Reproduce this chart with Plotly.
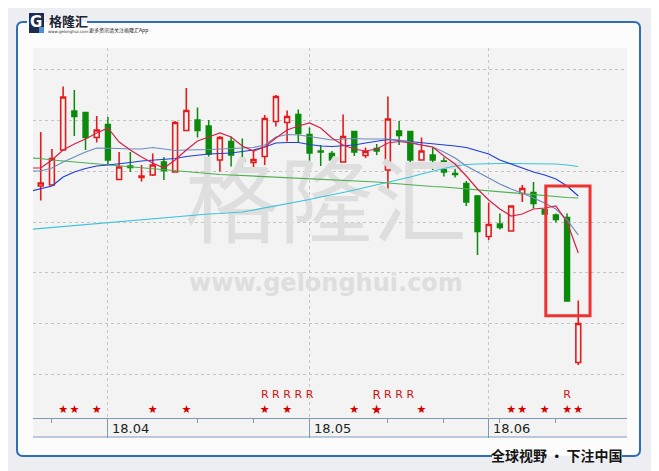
import plotly.graph_objects as go

# candle data (one bar per trading day, index 0..48)
opens = [23.4, 23.5, 27.0, 30.9, 30.75, 28.25, 29.55, 24.05, 25.4, 24.25,
         24.5, 25.8, 24.8, 28.95, 30.0, 29.4, 26.0, 27.85, 26.0, 25.75,
         26.35, 29.85, 29.75, 30.55, 28.55, 26.9, 26.65, 25.8, 28.85, 26.45,
         27.15, 25.0, 28.9, 28.85, 26.0, 26.5, 25.9, 24.65, 23.65, 22.4,
         18.35, 19.6, 18.9, 22.65, 22.75, 21.05, 20.5, 20.25, 5.75]
highs = [28.8, 27.1, 33.35, 33.0, 30.75, 30.4, 30.3, 26.8, 26.8, 25.5,
         26.65, 26.3, 29.9, 33.2, 31.25, 30.0, 28.4, 28.35, 28.15, 27.0,
         30.5, 32.5, 30.95, 31.05, 29.25, 27.5, 26.9, 30.55, 28.85, 27.25,
         27.6, 32.35, 29.9, 28.85, 28.25, 27.25, 26.25, 25.35, 23.9, 22.5,
         21.75, 20.65, 21.4, 23.5, 23.8, 21.05, 20.65, 20.65, 11.95]
lows = [21.95, 23.5, 27.0, 28.4, 27.0, 27.75, 25.6, 24.05, 24.8, 23.85,
        24.4, 24.0, 24.8, 28.95, 28.25, 26.3, 24.85, 25.35, 25.15, 24.7,
        25.5, 29.35, 27.85, 27.7, 25.55, 25.4, 25.65, 25.8, 26.4, 26.2,
        26.5, 22.5, 27.5, 25.5, 26.0, 25.0, 24.35, 24.25, 21.4, 16.5,
        18.0, 19.05, 18.9, 21.8, 21.15, 20.6, 19.75, 11.9, 5.5]
closes = [23.7, 26.15, 32.3, 30.35, 28.25, 29.0, 26.0, 25.3, 25.25, 24.4,
          25.5, 24.95, 29.75, 30.95, 28.95, 26.6, 28.25, 26.5, 25.9, 26.05,
          30.15, 32.35, 30.35, 28.65, 26.7, 26.8, 26.0, 28.35, 26.8, 26.85,
          26.9, 30.1, 28.45, 26.0, 26.9, 26.0, 24.8, 24.55, 21.8, 18.85,
          19.55, 19.25, 21.4, 23.15, 21.65, 20.6, 20.05, 11.9, 9.65]

# moving average lines (first value = day before the window)
ma5 = [25.2, 25.2, 26.0, 27.0, 27.6, 28.1, 28.7, 29.2, 27.8, 27.0, 26.3,
       25.7, 25.2, 26.0, 27.0, 27.9, 28.3, 28.7, 28.3, 27.4, 26.9,
       27.3, 28.2, 29.0, 29.4, 29.7, 29.2, 28.2, 27.5, 27.1, 26.9,
       27.1, 27.7, 27.85, 27.7, 27.5, 27.3, 26.4, 25.6, 24.4, 23.1,
       22.0, 21.1, 20.4, 20.6, 21.1, 21.2, 21.4, 19.8, 16.7]
ma10 = [24.9, 24.9, 25.2, 25.8, 26.3, 26.8, 27.2, 27.2, 27.15, 27.1, 27.1,
        27.25, 27.1, 26.95, 27.0, 27.0, 27.05, 27.1, 27.15, 27.2, 27.25,
        27.5, 28.3, 28.55, 28.5, 28.35, 28.15, 28.0, 28.1, 28.15, 28.1,
        28.1, 28.1, 28.0, 27.8, 27.5, 27.3, 26.8, 26.2, 25.4, 24.8,
        24.2, 23.6, 23.1, 22.7, 22.2, 21.7, 21.1, 20.0, 18.5]
ma20 = [22.85, 23.1, 23.4, 24.3, 24.8, 25.15, 25.4, 25.5, 25.6, 25.75, 25.9,
        26.0, 26.1, 26.15, 26.35, 26.5, 26.6, 26.65, 26.7, 26.85, 27.0,
        27.3, 27.7, 27.75, 27.75, 27.55, 27.4, 27.35, 27.4, 27.5, 27.7,
        27.9, 28.05, 27.95, 27.85, 27.7, 27.6, 27.5, 27.4, 27.25, 26.9,
        26.6, 26.0, 25.6, 25.2, 24.8, 24.5, 24.1, 23.4, 22.4]
ma60 = [26.2, 26.15, 26.0, 25.9, 25.8, 25.7, 25.6, 25.5, 25.45, 25.35, 25.25,
        25.15, 25.05, 24.9, 24.8, 24.7, 24.65, 24.55, 24.5, 24.45, 24.35,
        24.3, 24.25, 24.2, 24.15, 24.15, 24.1, 24.05, 24.0, 23.95, 23.9,
        23.8, 23.7, 23.6, 23.5, 23.4, 23.35, 23.3, 23.2, 23.15, 23.05,
        22.95, 22.85, 22.75, 22.65, 22.55, 22.45, 22.35, 22.25, 22.2]
ma250 = [19.05, 19.15, 19.25, 19.35, 19.45, 19.55, 19.65, 19.75, 19.85, 19.95, 20.05,
         20.15, 20.25, 20.35, 20.45, 20.5, 20.6, 20.65, 20.7, 20.8, 21.0,
         21.2, 21.4, 21.6, 21.8, 22.05, 22.3, 22.5, 22.75, 23.0, 23.25,
         23.5, 23.8, 24.05, 24.3, 24.6, 24.9, 25.15, 25.4, 25.55, 25.6,
         25.65, 25.65, 25.65, 25.65, 25.65, 25.65, 25.6, 25.5, 25.35]

star_days = [2, 3, 5, 10, 13, 20, 22, 28, 30, 34, 42, 43, 45, 47, 48]
r_days = [20, 21, 22, 23, 24, 30, 31, 32, 33, 47]
month_pos = [6, 24, 40]
month_labels = ["18.04", "18.05", "18.06"]
week_pos = [1, 14, 19, 31, 36, 41, 46]
grid_levels = [4.6, 9.7, 14.8, 19.8, 24.9, 30.0, 35.1]

days = list(range(len(closes)))
ma_days = list(range(-1, len(closes)))

# the page puts the figure 8px in from the top-left corner
OFF = 8
W, H = 659 - OFF, 471 - OFF
L, R, T, B = 33, 627, 48, 418   # plot area in window pixels


# window pixel -> paper helpers for the decoration
def px(x):
    return (x - L) / (R - L)


def py(y):
    return (B - y) / (B - T)


fig = go.Figure()

# watermark sits behind everything
fig.add_trace(go.Scatter(x=[25.47], y=[20.8], mode="text", text=["格隆汇"],
                         textfont=dict(family="Noto Sans CJK SC", size=94, color="#dedede"),
                         hoverinfo="skip"))
fig.add_trace(go.Scatter(x=[25.47], y=[13.5], mode="text", text=["<b>www.gelonghui.com</b>"],
                         textfont=dict(family="DejaVu Sans", size=24, color="#dedede"),
                         hoverinfo="skip"))

fig.add_trace(go.Candlestick(
    x=days, open=opens, high=highs, low=lows, close=closes,
    increasing=dict(line=dict(color="#e41b1b", width=1.6), fillcolor="#f3f3f3"),
    decreasing=dict(line=dict(color="#0b8a0b", width=1.5), fillcolor="#0b8a0b"),
    hoverinfo="skip"))

for vals, col in [(ma250, "#3cc3dc"), (ma60, "#4cb050"), (ma20, "#1d3fd6"),
                  (ma10, "#6d8cbc"), (ma5, "#d6204a")]:
    fig.add_trace(go.Scatter(x=ma_days, y=vals, mode="lines",
                             line=dict(color=col, width=1.2), hoverinfo="skip"))

star_size = [13 if d == 30 else 11 for d in star_days]
fig.add_trace(go.Scatter(x=star_days, y=[0.95] * len(star_days), mode="text",
                         text=["★"] * len(star_days),
                         textfont=dict(family="DejaVu Sans", size=star_size, color="#d40000"),
                         hoverinfo="skip"))
r_size = [12 if d == 30 else 11 for d in r_days]
fig.add_trace(go.Scatter(x=r_days, y=[2.45] * len(r_days), mode="text",
                         text=["R"] * len(r_days),
                         textfont=dict(family="DejaVu Sans", size=r_size, color="#cc1414"),
                         hoverinfo="skip"))

shapes = []
# white panel inside the frame
shapes.append(dict(type="rect", xref="paper", yref="paper", layer="below",
                   x0=px(17), x1=px(640), y0=py(456), y1=py(22),
                   fillcolor="#fcfcfc", line=dict(width=0)))
# grey chart area incl. date strip
shapes.append(dict(type="rect", xref="paper", yref="paper", layer="below",
                   x0=px(L), x1=px(R), y0=py(437), y1=py(T),
                   fillcolor="#f3f3f3", line=dict(width=0)))
# bottom line of the date strip
shapes.append(dict(type="line", xref="paper", yref="paper",
                   x0=px(L), x1=px(R), y0=py(437), y1=py(437),
                   line=dict(color="#7f98b8", width=1)))
# blue frame, with gaps for logo and slogan
p1 = " ".join([f"M{px(27)},{py(22)}", f"L{px(23)},{py(22)}",
               f"Q{px(17)},{py(22)} {px(17)},{py(28)}", f"L{px(17)},{py(450)}",
               f"Q{px(17)},{py(456)} {px(23)},{py(456)}", f"L{px(492)},{py(456)}"])
p2 = " ".join([f"M{px(622)},{py(456)}", f"L{px(634)},{py(456)}",
               f"Q{px(640)},{py(456)} {px(640)},{py(450)}", f"L{px(640)},{py(28)}",
               f"Q{px(640)},{py(22)} {px(634)},{py(22)}", f"L{px(87)},{py(22)}"])
for p in (p1, p2):
    shapes.append(dict(type="path", xref="paper", yref="paper", path=p,
                       line=dict(color="#2f6db5", width=2)))
# logo block
shapes.append(dict(type="rect", xref="paper", yref="paper", layer="below",
                   x0=px(29), x1=px(44), y0=py(33), y1=py(13),
                   fillcolor="#1d2b4f", line=dict(width=0)))
shapes.append(dict(type="rect", xref="paper", yref="paper", layer="below",
                   x0=px(39), x1=px(44), y0=py(33), y1=py(27),
                   fillcolor="#4a90d9", line=dict(width=0)))
# highlight box
shapes.append(dict(type="rect", xref="x", yref="y", x0=45.1, x1=49.05, y0=10.43, y1=23.4,
                   line=dict(color="#ee3232", width=3)))

annotations = []
for pos, lab in zip(month_pos, month_labels):
    annotations.append(dict(x=pos, y=py(429), xref="x", yref="paper", text=lab,
                            showarrow=False, xanchor="left", yanchor="middle", xshift=2,
                            font=dict(family="DejaVu Sans", size=13, color="#222222")))
header = [
    dict(x=px(35.5), y=py(22.5), text="<b>G</b>", xanchor="center",
         font=dict(family="DejaVu Sans", size=15, color="#ffffff")),
    dict(x=px(47), y=py(20.5), text="<b>格隆汇</b>", xanchor="left",
         font=dict(family="Noto Sans CJK SC", size=13, color="#1c2434")),
    dict(x=px(47), y=py(31.5), text="www.gelonghui.com", xanchor="left", borderpad=0,
         font=dict(family="DejaVu Sans", size=4, color="#333333")),
    dict(x=px(88), y=py(30.5), text="更多资讯请关注格隆汇App", xanchor="left", borderpad=0,
         font=dict(family="Noto Sans CJK SC", size=5, color="#222222")),
    dict(x=px(557), y=py(455), text="<b>全球视野\u2009•\u2009下注中国</b>", xanchor="center",
         font=dict(family="Noto Sans CJK SC", size=14, color="#151515")),
]
for a in header:
    a.update(xref="paper", yref="paper", showarrow=False, yanchor="middle")
annotations += header

fig.update_layout(
    width=W, height=H,
    margin=dict(l=L - OFF, r=W - (R - OFF), t=T - OFF, b=H - (B - OFF)),
    paper_bgcolor="#eceef1", plot_bgcolor="rgba(0,0,0,0)",
    showlegend=False, boxgap=0.38,
    shapes=shapes, annotations=annotations,
    xaxis=dict(range=[-0.69, 52.35], tickmode="array", tickvals=month_pos,
               showticklabels=False, ticks="outside", ticklen=19, tickcolor="#7f98b8",
               showgrid=True, gridcolor="#c4c4c4", griddash="dot",
               showline=True, linecolor="#7f98b8", linewidth=1, zeroline=False,
               rangeslider=dict(visible=False),
               minor=dict(tickmode="array", tickvals=week_pos, ticks="outside",
                          ticklen=4, tickcolor="#7f98b8", showgrid=False)),
    yaxis=dict(range=[0.2, 37.2], tickmode="array", tickvals=grid_levels,
               showticklabels=False, showgrid=True, gridcolor="#c4c4c4", griddash="dot",
               zeroline=False, showline=False),
)

fig.write_html("out.html")
